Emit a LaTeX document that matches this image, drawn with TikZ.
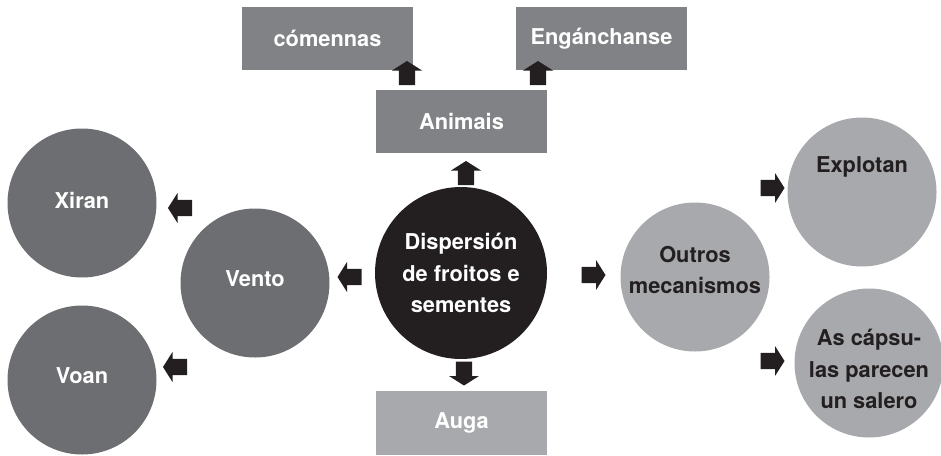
\documentclass[tikz,border=0pt]{standalone}
\usepackage{fontspec}
\setmainfont{TeX Gyre Heros}
\definecolor{kblack}{HTML}{231F20}
\definecolor{kdark}{HTML}{6D6E71}
\definecolor{kmid}{HTML}{808285}
\definecolor{klight}{HTML}{A7A9AC}
\tikzset{
  lbl/.style={font=\fontsize{21.8}{31.5}\selectfont\bfseries, align=center},
  boxdark/.style={lbl, fill=kmid, text=white, minimum width=171pt, minimum height=63pt, inner sep=0pt},
  boxlight/.style={lbl, fill=klight, text=white, minimum width=171pt, minimum height=64pt, inner sep=0pt},
  circdark/.style={lbl, circle, fill=kdark, text=white, minimum size=149pt, inner sep=0pt},
  circlight/.style={lbl, circle, fill=klight, text=kblack, minimum size=149pt, inner sep=0pt},
  circmain/.style={lbl, circle, fill=kblack, text=white, minimum size=172pt, inner sep=0pt},
  blockarrow/.pic={\fill[kblack] (-12,-8.2) -- (2.5,-8.2) -- (2.5,-15) -- (12,0) -- (2.5,15) -- (2.5,8.2) -- (-12,8.2) -- cycle;}
}
\begin{document}
\begin{tikzpicture}[x=1pt,y=-1pt]
\useasboundingbox (0,0) rectangle (941,455);
% boxes
\node[boxdark] (comennas) at (327.5,38.5) {cómennas};
\node[boxdark] (enganchanse) at (601.5,38.5) {Engánchanse};
\node[boxdark] (animais) at (461.5,121.5) {Animais};
\node[boxlight] (auga) at (461.5,423) {Auga};
% circles
\node[circmain] (disp) at (461,273) {Dispersión\\de froitos e\\sementes};
\node[circdark] (vento) at (255,283) {};
\node[lbl, text=white] at ([yshift=4pt]vento.center) {Vento};
\node[circdark] (xiran) at (82,203) {};
\node[lbl, text=white] at ([yshift=3pt]xiran.center) {Xiran};
\node[circdark] (voan) at (82,380) {};
\node[lbl, text=white] at ([yshift=4pt]voan.center) {Voan};
\node[circlight] (outros) at (695,277) {};
\node[lbl, text=kblack] at ([yshift=7pt]outros.center) {Outros\\mecanismos};
\node[circlight] (explotan) at (862,192) {};
\node[lbl, text=kblack] at ([yshift=25pt]explotan.center) {Explotan};
\node[circlight] (capsulas) at (869,363) {};
\node[lbl, text=kblack] at ([yshift=-6pt]capsulas.center) {As cápsu-\\las parecen\\un salero};
% block arrows
\pic[rotate=90] at (407,73) {blockarrow};
\pic[rotate=90] at (538,73) {blockarrow};
\pic[rotate=90] at (466,173) {blockarrow};
\pic[rotate=270] at (464,373.5) {blockarrow};
\pic[rotate=180] at (349.5,277) {blockarrow};
\pic[rotate=180] at (180,208) {blockarrow};
\pic[rotate=180] at (175,367) {blockarrow};
\pic at (593.5,275) {blockarrow};
\pic at (772.5,188) {blockarrow};
\pic at (772.5,361) {blockarrow};
\end{tikzpicture}
\end{document}
